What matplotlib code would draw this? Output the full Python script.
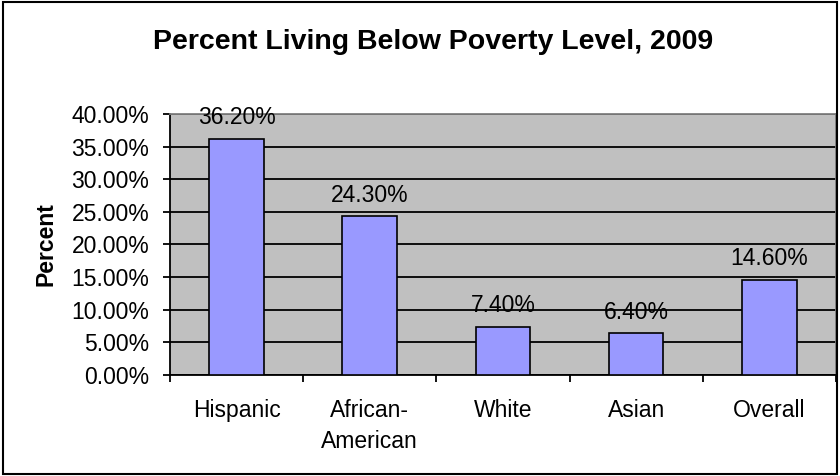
import matplotlib.pyplot as plt
import numpy as np
from matplotlib.patches import Rectangle

plt.rcParams['font.family'] = ['Liberation Sans', 'DejaVu Sans']

groups = ['Hispanic', 'African-\nAmerican', 'White', 'Asian', 'Overall']
pct = [36.2, 24.3, 7.4, 6.4, 14.6]
yticks = [0, 5, 10, 15, 20, 25, 30, 35, 40]

fs = 16.5

fig = plt.figure(figsize=(8.4, 4.76), dpi=100)
ax = fig.add_axes([0.2024, 0.2122, 0.7928, 0.5483])
ax.set_facecolor('#C0C0C0')

x = np.arange(len(groups))
ax.bar(x, pct, width=0.41, color='#9999FF', edgecolor='black', linewidth=1.2, zorder=3)
for xi, v in zip(x, pct):
    ax.annotate('%.2f%%' % v, (xi, v), xytext=(0, 7), textcoords='offset points',
                ha='center', va='bottom', fontsize=fs, zorder=4)

ax.set_xlim(-0.5, len(groups) - 0.5)
ax.set_ylim(0, 40)
ax.set_yticks(yticks)
ax.set_yticklabels(['%.2f%%' % t for t in yticks], fontsize=fs)
ax.yaxis.grid(True, color='black', linewidth=1.3, zorder=1)
ax.set_axisbelow(True)

ax.set_xticks(np.arange(len(groups) + 1) - 0.5)
ax.set_xticklabels([])
ax.set_xticks(x, minor=True)
ax.set_xticklabels(groups, minor=True, fontsize=fs, linespacing=1.45)
ax.tick_params(axis='x', which='minor', length=0, pad=17)
ax.tick_params(axis='x', which='major', length=5, width=1.3, direction='out')
ax.tick_params(axis='y', length=5, width=1.3, direction='out', pad=10)

for s in ['left', 'bottom']:
    ax.spines[s].set_color('black')
    ax.spines[s].set_linewidth(1.3)
for s in ['top', 'right']:
    ax.spines[s].set_color('#808080')
    ax.spines[s].set_linewidth(1.3)

ax.set_ylabel('Percent', fontsize=fs, fontweight='bold', labelpad=10)
fig.text(0.515, 0.912, 'Percent Living Below Poverty Level, 2009', ha='center', va='center',
         fontsize=20.5, fontweight='bold')

fig.patches.append(Rectangle((0.003, 0.004), 0.994, 0.992, transform=fig.transFigure,
                             fill=False, edgecolor='black', linewidth=1.5))

fig.savefig('out.png', dpi=100)
